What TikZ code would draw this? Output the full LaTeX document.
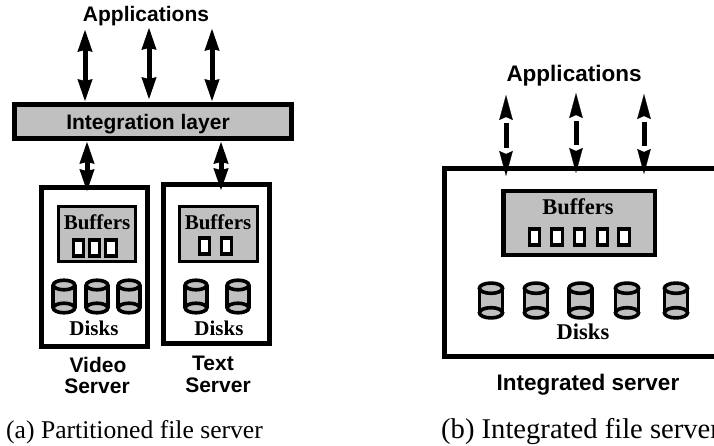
\documentclass[tikz,border=0pt]{standalone}
\usepackage{fontspec}
\setmainfont{Liberation Serif}
\newfontfamily\labelsans{Liberation Sans}
\usetikzlibrary{arrows.meta}
\definecolor{boxgray}{HTML}{C0C0C0}
\tikzset{
  sanslabel/.style={font=\labelsans\bfseries\fontsize{21}{24}\selectfont,inner sep=0pt},
  seriflabel/.style={font=\bfseries\fontsize{21}{24}\selectfont,inner sep=0pt},
  sanslarge/.style={font=\labelsans\bfseries\fontsize{22.5}{26}\selectfont,inner sep=0pt},
  seriflarge/.style={font=\bfseries\fontsize{22.5}{26}\selectfont,inner sep=0pt},
  captionlabel/.style={font=\fontsize{25.6}{30}\selectfont,inner sep=0pt,anchor=base west},
  serverbox/.style={draw,line width=4.6pt,inner sep=0pt},
  bufferbox/.style={draw,fill=boxgray,line width=3.2pt,inner sep=0pt},
  slotbox/.style={draw,fill=white,line width=3.4pt,inner sep=0pt,minimum width=10.5pt,minimum height=16pt},
  duplex/.style={line width=5pt,{Stealth[length=22pt,width=13.5pt,inset=1pt]}-{Stealth[length=22pt,width=13.5pt,inset=1pt]}},
  duplextips/.style={draw=white,line width=.2pt,{Stealth[black,length=25pt,width=13.5pt,inset=3pt]}-{Stealth[black,length=25pt,width=13.5pt,inset=3pt]}},
  duplexshaft/.style={line width=5pt,shorten <=28pt,shorten >=28pt},
  disk/.pic={
    \fill[boxgray] (-10.8,-11.5) rectangle (10.8,11.5);
    \draw[line width=3.6pt,fill=boxgray] (0,-11.5) ellipse (10.8 and 4.8);
    \draw[line width=3.6pt,fill=boxgray] (0,11.5) ellipse (10.8 and 4.8);
    \draw[line width=3.6pt] (-10.8,-11.5) -- (-10.8,11.5) (10.8,-11.5) -- (10.8,11.5);
  }
}
\begin{document}
\begin{tikzpicture}[x=1pt,y=-1pt]
\useasboundingbox (0,0) rectangle (714,446);

% partitioned server
\node[sanslabel] (appsa) at (146,16) {Applications};
\node[serverbox,fill=boxgray,minimum width=277.4pt,minimum height=34.4pt] (layer) at (153,121.5) {};
\node[sanslabel] (layertext) at (148,124) {Integration layer};
\coordinate (topa) at (85,29);
\coordinate (topb) at (149,27);
\coordinate (topc) at (212,28);
\coordinate (endb) at (149,100);
\draw[duplex] (topa) -- (topa |- layer.north);
\draw[duplex] (topb) -- (endb);
\draw[duplex] (topc) -- (topc |- layer.north);

\node[serverbox,minimum width=106.4pt,minimum height=159.4pt] (video) at (94.5,267) {};
\node[serverbox,minimum width=106.4pt,minimum height=159.4pt] (text) at (216.5,264) {};
\coordinate (downa) at (87,192);
\coordinate (downb) at (221,191);
\draw[duplex] (downa |- layer.south) -- (downa);
\draw[duplex] (downb |- layer.south) -- (downb);

\node[bufferbox,minimum width=77pt,minimum height=55pt] (bufa) at (97,234) {};
\node[seriflabel] (bufatext) at (97,222) {Buffers};
\foreach \x in {78.5,94.5,111}
  \node[slotbox] at (\x,248) {};
\node[bufferbox,minimum width=78pt,minimum height=55pt] (bufb) at (218.5,234) {};
\node[seriflabel] (bufbtext) at (218,222) {Buffers};
\foreach \x in {204.5,226.5}
  \node[slotbox] at (\x,246) {};

\foreach \x in {64,97,129,196,238}
  \pic at (\x,296.5) {disk};
\node[seriflabel] (disksa) at (94,328) {Disks};
\node[seriflabel] (disksb) at (219,328) {Disks};

\node[sanslabel] (videotext) at (98,365) {Video};
\node[sanslabel] (videoserver) at (97,386) {Server};
\node[sanslabel] (texttext) at (213,363) {Text};
\node[sanslabel] (textserver) at (218,385) {Server};
\node[captionlabel] (capa) at (6,438) {(a) Partitioned file server};

% integrated server
\node[sanslarge] (appsb) at (574,76) {Applications};
\node[serverbox,minimum width=320pt,minimum height=188pt] (integ) at (604.3,262.5) {};
\coordinate (topd) at (506,95);
\coordinate (tope) at (576,93);
\coordinate (topf) at (644,94);
\coordinate (endd) at (506,176);
\coordinate (ende) at (576,173);
\coordinate (endf) at (644,174);
\foreach \a/\b in {topd/endd,tope/ende,topf/endf} {
  \draw[duplextips] (\a) -- (\b);
  \draw[duplexshaft] (\a) -- (\b);
}

\node[bufferbox,line width=4.5pt,minimum width=151.5pt,minimum height=63.5pt] (bufc) at (579,223) {};
\node[seriflarge] (bufctext) at (578,207) {Buffers};
\foreach \x in {534.5,557,579.5,602.5,624}
  \node[slotbox] at (\x,237) {};

\foreach \x in {491,536,580.5,627,676}
  \pic[scale=1.07] at (\x,300.5) {disk};
\node[seriflarge] (disksc) at (583,332) {Disks};
\node[sanslarge] (integtext) at (588,385) {Integrated server};
\node[captionlabel,font=\fontsize{28.6}{32}\selectfont] (capb) at (441,438) {(b) Integrated file server};
\end{tikzpicture}
\end{document}
